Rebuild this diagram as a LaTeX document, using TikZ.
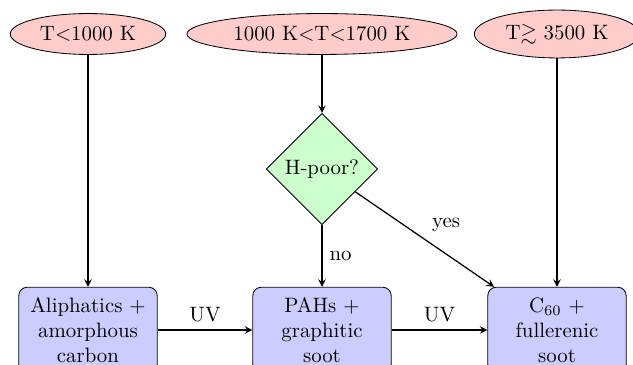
\documentclass[tikz,border=0pt]{standalone}
\usepackage{amsmath,amssymb}
\usepackage{tikz}
\usetikzlibrary{shapes.geometric, arrows, positioning}

\tikzset{
    tempnode/.style={ellipse, draw, fill=red!20},
    checknode/.style={diamond, draw, fill=green!20, aspect=1, inner sep=2.2pt},
    phasebox/.style={rectangle, draw, rounded corners, fill=blue!20,
        text width=2.1cm, align=center, minimum height=41pt},
    flow/.style={->, >=stealth, semithick}
}

\begin{document}
\begin{tikzpicture}[x=0.48pt, y=-0.48pt]
    \def\xL{88}
    \def\xM{322}
    \def\xR{557}
    \def\yTop{34}
    \def\yMid{169}
    \def\yBot{330}

    % fix the page to the reference frame
    \useasboundingbox (0,0) rectangle (633,365);

    % temperature regimes
    \node[tempnode] (coolT) at (\xL,\yTop) {T$<$1000 K};
    \node[tempnode] (warmT) at (\xM,\yTop) {1000 K$<$T$<$1700 K};
    \node[tempnode] (hotT)  at (\xR,\yTop) {T$\gtrsim$ 3500 K};

    % hydrogen check
    \node[checknode] (hpoor) at (\xM,\yMid) {H-poor?};

    % carbon products
    \node[phasebox] (aliph) at (\xL,\yBot) {Aliphatics +\\ amorphous\\ carbon};
    \node[phasebox] (pahs)  at (\xM,\yBot) {PAHs +\\ graphitic\\ soot};
    \node[phasebox] (fulls) at (\xR,\yBot) {C$_{60}$ +\\ fullerenic\\ soot};

    \draw[flow] (coolT) -- (aliph);
    \draw[flow] (warmT) -- (hpoor);
    \draw[flow] (hotT) -- (fulls);

    \draw[flow] (hpoor) -- (pahs) node[midway, right] {no};
    \draw[flow] (hpoor) -- (fulls) node[midway, above right] {yes};

    \draw[flow] (aliph) -- (pahs) node[midway, above] {UV};
    \draw[flow] (pahs) -- (fulls) node[midway, above] {UV};
\end{tikzpicture}
\end{document}
